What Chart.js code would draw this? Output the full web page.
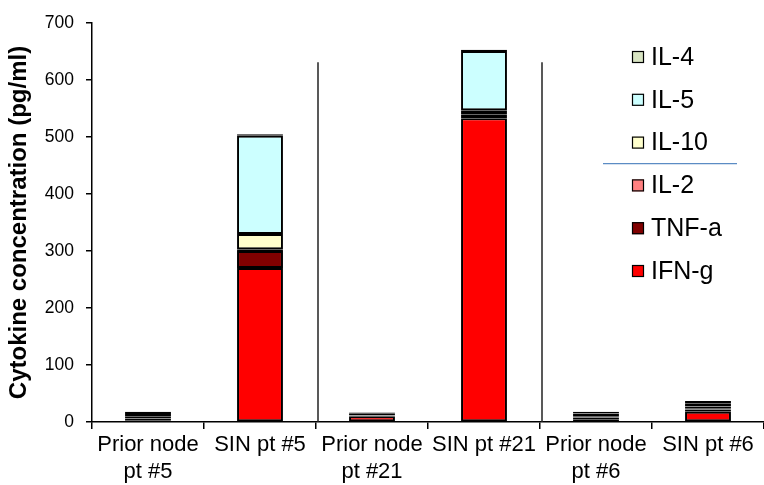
<!DOCTYPE html>
<html>
<head>
<meta charset="utf-8">
<script src="https://cdn.jsdelivr.net/npm/chart.js@4"></script>
<style>
  html, body { margin: 0; padding: 0; background: #fff; }
  #wrap { width: 764px; height: 485px; }
</style>
</head>
<body>
<div id="wrap"><canvas id="c" width="764" height="485"></canvas></div>
<script>
// categories along the bottom
const categories = [
    ["Prior node", "pt #5"],
    "SIN pt #5",
    ["Prior node", "pt #21"],
    "SIN pt #21",
    ["Prior node", "pt #6"],
    "SIN pt #6"
];

// cytokine values (pg/ml), stacked bottom -> top
const ifng  = [2, 270, 10, 533, 4, 18];
const tnfa  = [4, 30, 1, 7, 3, 4];
const il2   = [1, 3, 0.5, 2, 1, 2];
const il10  = [3, 27, 1, 5, 2, 3];
const il5   = [4, 172, 3, 104, 5, 6];
const il4   = [4, 3, 1, 2, 3, 4];

const yTicks = [0, 100, 200, 300, 400, 500, 600, 700];

// where the divider lines stop (in data units)
const dividerTop = 631;

const FONT = "'Liberation Sans', Arial, sans-serif";

function ds(label, data, color) {
    return {
        label: label,
        data: data,
        backgroundColor: color,
        borderColor: "#000",
        borderWidth: 2,
        borderSkipped: false,
        categoryPercentage: 1,
        barPercentage: 0.41
    };
}

const datasets = [
    ds("IFN-g", ifng, "#ff0000"),
    ds("TNF-a", tnfa, "#800000"),
    ds("IL-2", il2, "#ff8080"),
    ds("IL-10", il10, "#ffffcc"),
    ds("IL-5", il5, "#ccffff"),
    ds("IL-4", il4, "#d8e4c2")
];

// thin divider lines between patient pairs
const dividers = {
    id: "dividers",
    afterDatasetsDraw(chart) {
        const ctx = chart.ctx;
        const x = chart.scales.x, y = chart.scales.y;
        ctx.save();
        ctx.strokeStyle = "#222";
        ctx.lineWidth = 1.5;
        for (const i of [1, 3]) {
            const xp = (x.getPixelForValue(i) + x.getPixelForValue(i + 1)) / 2 + 2;
            ctx.beginPath();
            ctx.moveTo(xp, y.getPixelForValue(dividerTop));
            ctx.lineTo(xp, y.getPixelForValue(0));
            ctx.stroke();
        }
        ctx.restore();
    }
};

// legend drawn by hand: reversed order, with a blue rule after IL-10
const legendBox = {
    id: "legendBox",
    afterDraw(chart) {
        const ctx = chart.ctx;
        const items = chart.data.datasets.slice().reverse();
        ctx.save();
        ctx.font = "25px " + FONT;
        ctx.textBaseline = "middle";
        let yy = 57;
        items.forEach((d, i) => {
            ctx.fillStyle = d.backgroundColor;
            ctx.fillRect(632, yy - 6, 12, 12);
            ctx.strokeStyle = "#000";
            ctx.lineWidth = 1.2;
            ctx.strokeRect(632.5, yy - 5.5, 11, 11);
            ctx.fillStyle = "#000";
            ctx.fillText(d.label, 651, yy + 1);
            if (i === 2) {
                ctx.strokeStyle = "#5b8cc4";
                ctx.lineWidth = 1.2;
                ctx.beginPath();
                ctx.moveTo(603, yy + 21);
                ctx.lineTo(737, yy + 21);
                ctx.stroke();
            }
            yy += 42.8;
        });
        ctx.restore();
    }
};

new Chart(document.getElementById("c"), {
    type: "bar",
    data: { labels: categories, datasets: datasets },
    options: {
        responsive: false,
        animation: false,
        devicePixelRatio: 1,
        layout: { padding: { top: 23, right: -6, left: 0, bottom: 0 } },
        plugins: {
            legend: { display: false },
            tooltip: { enabled: false }
        },
        scales: {
            x: {
                stacked: true,
                offset: true,
                afterFit(s) { s.height = 63; },
                border: { display: true, color: "#000", width: 1.5 },
                grid: {
                    offset: true,
                    drawOnChartArea: false,
                    drawTicks: true,
                    tickLength: 7,
                    color: "#000",
                    lineWidth: 1.5
                },
                ticks: {
                    color: "#000",
                    font: { family: FONT, size: 22, lineHeight: 1.2 },
                    maxRotation: 0,
                    autoSkip: false,
                    padding: 3
                }
            },
            y: {
                stacked: true,
                min: 0,
                max: 700,
                afterBuildTicks(s) { s.ticks = yTicks.map(v => ({ value: v })); },
                afterFit(s) { s.width = 92; },
                border: { display: true, color: "#000", width: 1.5 },
                grid: {
                    drawOnChartArea: false,
                    drawTicks: true,
                    tickLength: 6,
                    color: "#000",
                    lineWidth: 1.5
                },
                ticks: {
                    color: "#000",
                    font: { family: FONT, size: 17.5 },
                    padding: 12
                },
                title: {
                    display: true,
                    text: "Cytokine concentration (pg/ml)",
                    color: "#000",
                    font: { family: FONT, size: 24, weight: "bold" },
                    padding: { top: 5, bottom: 0 }
                }
            }
        }
    },
    plugins: [dividers, legendBox]
});
</script>
</body>
</html>
